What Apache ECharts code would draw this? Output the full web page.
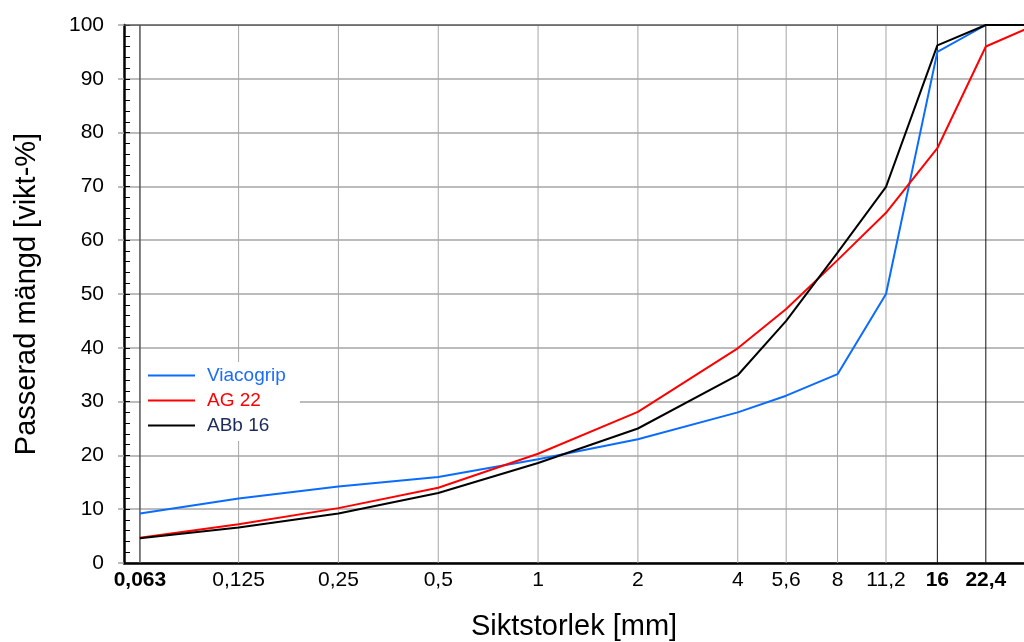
<!DOCTYPE html>
<html>
<head>
<meta charset="utf-8">
<script src="https://cdn.jsdelivr.net/npm/echarts@6/dist/echarts.min.js"></script>
<style>html,body{margin:0;padding:0;background:#fff;}#c{width:1024px;height:642px;}</style>
</head>
<body>
<div id="c"></div>
<script>
const sieves = [0.063, 0.125, 0.25, 0.5, 1, 2, 4, 5.6, 8, 11.2, 16, 22.4, 31.5];
const tickSieves = [0.063, 0.125, 0.25, 0.5, 1, 2, 4, 5.6, 8, 11.2, 16, 22.4];
const tickLabels = ['0,063', '0,125', '0,25', '0,5', '1', '2', '4', '5,6', '8', '11,2', '16', '22,4'];
const boldTicks = [0.063, 16, 22.4];
const viacogrip = [9.2, 12.0, 14.2, 16.0, 19.3, 23.0, 28.0, 31.1, 35.1, 50.0, 95.0, 100, 100];
const ag22 = [4.7, 7.2, 10.2, 14.0, 20.3, 28.1, 39.9, 47.2, 56.3, 65.1, 77.1, 96.0, 100];
const abb16 = [4.6, 6.6, 9.2, 13.0, 18.6, 25.0, 34.9, 45.0, 57.7, 69.9, 96.2, 100, 100];
const seriesNames = ['Viacogrip', 'AG 22', 'ABb 16'];
const seriesColors = ['#0a6cff', '#ff0000', '#000000'];
const legendTextColors = ['#1a6cff', '#ff0000', '#1b2a5c'];
const yTicks = [0, 10, 20, 30, 40, 50, 60, 70, 80, 90, 100];
const xMin = 0.0564, xMax = 29.2, yMin = 0, yMax = 100;

const font = '"Liberation Sans", Arial, sans-serif';
const pairs = arr => sieves.map((s, i) => [s, arr[i]]);
const allData = [viacogrip, ag22, abb16];

const vLineStyle = s => {
  if (s === 0.063) return {color: '#555555', width: 1.5};
  if (s === 16 || s === 22.4) return {color: '#111111', width: 1};
  return {color: '#a6a6a6', width: 1};
};

const chart = echarts.init(document.getElementById('c'), null, {renderer: 'canvas'});
const gridSeries = tickSieves.map(s => ({
  type: 'line',
  data: [[s, yMin], [s, yMax]],
  symbol: 'none',
  silent: true,
  z: 1,
  lineStyle: vLineStyle(s),
  tooltip: {show: false}
}));
gridSeries.push({
  type: 'line',
  data: [[xMin, yMax], [xMax, yMax]],
  symbol: 'none',
  silent: true,
  z: 1,
  lineStyle: {color: '#555555', width: 1.5}
});
const series = allData.map((d, i) => ({
  name: seriesNames[i],
  type: 'line',
  data: pairs(d),
  symbol: 'none',
  clip: true,
  z: 5,
  lineStyle: {color: seriesColors[i], width: 2},
  itemStyle: {color: seriesColors[i]}
}));

chart.setOption({
  animation: false,
  backgroundColor: '#ffffff',
  grid: {left: 124, right: 0, top: 25, bottom: 79, containLabel: false, outerBoundsMode: 'none'},
  legend: {
    left: 141, top: 362,
    orient: 'vertical',
    backgroundColor: '#ffffff',
    padding: [4, 14, 6, 7],
    itemGap: 6,
    itemWidth: 47,
    itemHeight: 2,
    icon: 'rect',
    textStyle: {fontFamily: font, fontSize: 19, padding: [0, 0, 0, 7]},
    data: seriesNames.map((n, i) => ({name: n, textStyle: {color: legendTextColors[i]}}))
  },
  xAxis: {
    type: 'log',
    logBase: 2,
    min: xMin,
    max: xMax,
    name: 'Siktstorlek [mm]',
    nameLocation: 'middle',
    nameGap: 49,
    nameTextStyle: {fontFamily: font, fontSize: 29, color: '#000'},
    axisLine: {show: true, onZero: false, lineStyle: {color: '#000', width: 2.5}},
    axisTick: {show: false, customValues: tickSieves},
    splitLine: {show: false},
    minorSplitLine: {show: false},
    axisLabel: {
      customValues: tickSieves,
      margin: 7,
      fontFamily: font,
      fontSize: 21,
      color: '#000',
      formatter: v => {
        let idx = -1;
        tickSieves.forEach((s, i) => { if (Math.abs(s - v) / s < 1e-3) idx = i; });
        if (idx < 0) return '';
        const lab = tickLabels[idx];
        return boldTicks.indexOf(tickSieves[idx]) >= 0 ? '{b|' + lab + '}' : lab;
      },
      rich: {b: {fontFamily: font, fontSize: 21, fontWeight: 'bold', color: '#000'}}
    }
  },
  yAxis: [{
    type: 'value',
    min: yMin, max: yMax, interval: 10,
    name: 'Passerad mängd [vikt-%]',
    nameLocation: 'middle',
    nameGap: 83,
    nameTextStyle: {fontFamily: font, fontSize: 29, color: '#000'},
    axisLine: {show: false},
    axisTick: {show: true, inside: false, length: 6, lineStyle: {color: '#a6a6a6', width: 1.5}},
    axisLabel: {
      margin: 20, fontFamily: font, fontSize: 21, color: '#000',
      customValues: yTicks
    },
    splitLine: {show: true, lineStyle: {color: '#a6a6a6', width: 1.5}}
  }, {
    type: 'value',
    position: 'left',
    min: yMin, max: yMax, interval: 2,
    axisLine: {show: true, onZero: false, lineStyle: {color: '#000', width: 2.5}},
    axisTick: {show: true, inside: true, length: 6, lineStyle: {color: '#000', width: 1}},
    axisLabel: {show: false},
    splitLine: {show: false}
  }],
  series: gridSeries.concat(series)
});
</script>
</body>
</html>
